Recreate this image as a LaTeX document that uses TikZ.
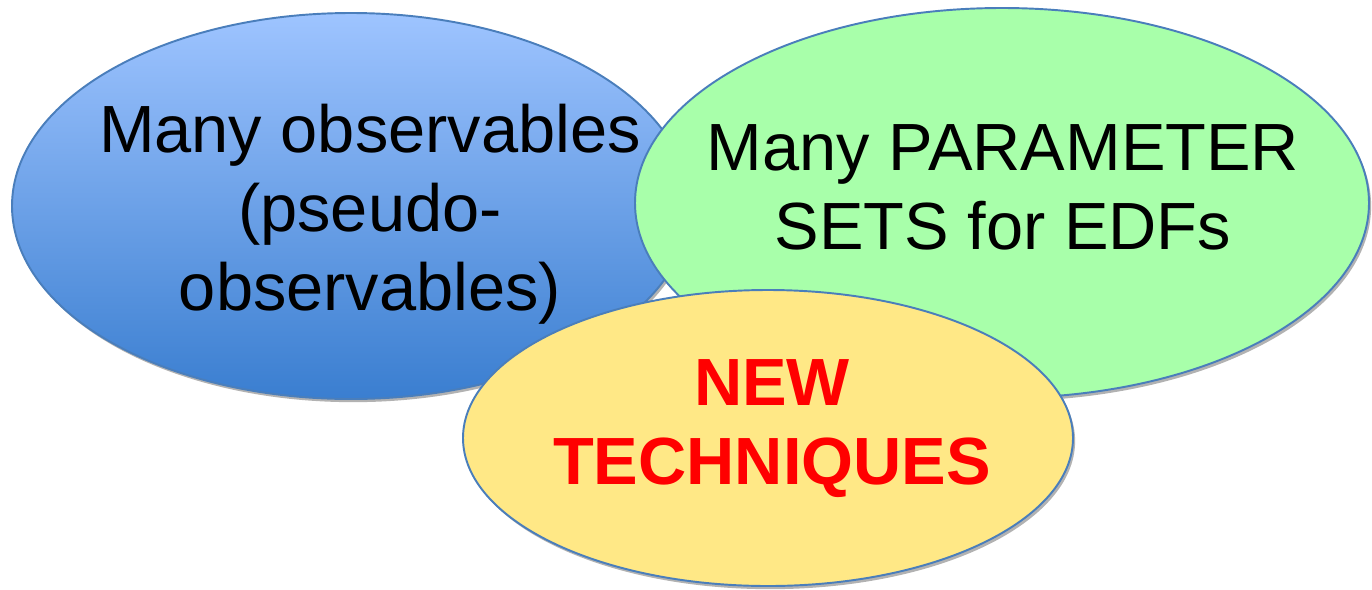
\documentclass[tikz,border=0pt]{standalone}
\usepackage{fontspec}
\setmainfont{Liberation Sans}
\usetikzlibrary{shadows}
\definecolor{blobline}{RGB}{74,126,187}
\definecolor{blobtop}{RGB}{158,196,255}
\definecolor{blobbot}{RGB}{58,126,208}
\definecolor{blobgreen}{RGB}{168,255,170}
\definecolor{blobyellow}{RGB}{255,232,134}
\definecolor{newred}{RGB}{255,0,0}
\begin{document}
\begin{tikzpicture}[x=0.02cm, y=-0.02cm,
  blob/.style={draw=blobline, line width=1.1pt, drop shadow={shadow xshift=1.2pt, shadow yshift=-1.8pt, opacity=0.3, fill=black}},
  words/.style={align=center, inner sep=0pt, font=\fontsize{38}{45}\selectfont}]
\useasboundingbox (0,0) rectangle (1372,589);
\draw[blob, top color=blobtop, bottom color=blobbot] (351,206) ellipse [x radius=339, y radius=193];
\node[words] (obs) at (370,214) {Many observables\\(pseudo-\\observables)};
\draw[blob, fill=blobgreen] (1002,203) ellipse [x radius=367, y radius=195];
\node[words] (sets) at (1003,187) {Many PARAMETER\\SETS for EDFs};
\draw[blob, fill=blobyellow] (768,438) ellipse [x radius=305, y radius=148];
\node[words, font=\fontsize{38}{45}\selectfont\bfseries, text=newred] (tech) at (772,429) {NEW\\TECHNIQUES};
\end{tikzpicture}
\end{document}
